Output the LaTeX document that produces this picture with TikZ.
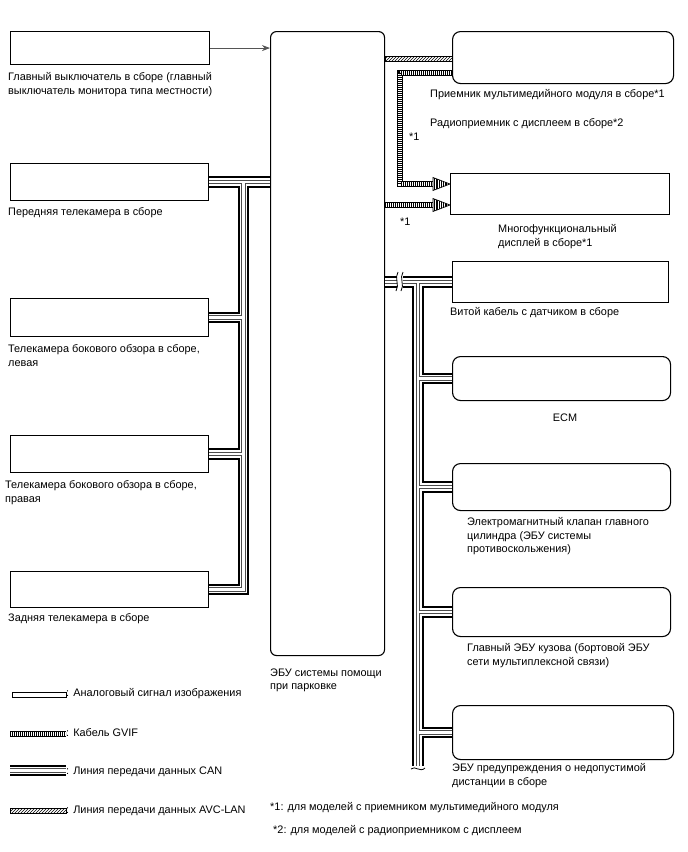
\documentclass[tikz,border=0pt]{standalone}
\usepackage{fontspec}
\setmainfont{Liberation Sans}
\usetikzlibrary{arrows.meta, positioning, calc, patterns}
\definecolor{linegray}{HTML}{555555}
\newcommand{\gvtip}[1]{%
  \begin{scope}[shift={#1}]
    \fill[white] (-17,-6.5) -- (0,0) -- (-17,6.5) -- cycle;
    \begin{scope}
      \clip (-17,-6.5) -- (0,0) -- (-17,6.5) -- cycle;
      \foreach \s in {-16,-14.2,...,-1} \draw[line width=0.6pt] (\s,-7) -- (\s,7);
    \end{scope}
    \draw[line width=0.7pt, line join=miter] (-17,-6.5) -- (0,0) -- (-17,6.5) -- cycle;
  \end{scope}}

\begin{document}
\begin{tikzpicture}[
    x=1pt, y=-1pt,
    font=\fontsize{10.9}{13.5}\selectfont,
    blk/.style={draw=black, line width=1.1pt, fill=white, anchor=north west, inner sep=0pt},
    rblk/.style={blk, rounded corners=8pt},
    lbl/.style={anchor=north west, inner sep=0pt, align=left},
    gvband/.style={line width=6pt, black},
    gvwhite/.style={line width=4.2pt, white},
    gvstripe/.style={line width=4.2pt, black, dash pattern=on 0.7pt off 1.3pt},
    swarrow/.style={-{Stealth[length=8pt, width=6pt]}, line width=0.8pt, linegray}
  ]
    \useasboundingbox (0,0) rectangle (688,852);

    % Blocks left
    \node[blk, minimum width=199pt, minimum height=33pt] (sw) at (10,31) {};
    \node[blk, minimum width=198pt, minimum height=37pt] (cf) at (10,163) {};
    \node[blk, minimum width=198pt, minimum height=38pt] (cl) at (10,298) {};
    \node[blk, minimum width=198pt, minimum height=37pt] (cr) at (10,435) {};
    \node[blk, minimum width=198pt, minimum height=36pt] (cb) at (10,571) {};

    % ECU
    \node[rblk, rounded corners=6pt, minimum width=114pt, minimum height=624pt] (ecu) at (270,31) {};

    % Blocks right
    \node[rblk, minimum width=221pt, minimum height=52pt] (mm) at (452,31) {};
    \node[blk, minimum width=219pt, minimum height=41pt] (mfd) at (450,173) {};
    \node[blk, minimum width=216pt, minimum height=41pt] (vk) at (452,261) {};
    \node[rblk, minimum width=218pt, minimum height=44pt] (ecm) at (452,356) {};
    \node[rblk, minimum width=218pt, minimum height=47pt] (skc) at (452,463) {};
    \node[rblk, minimum width=218pt, minimum height=49pt] (beu) at (452,587) {};
    \node[rblk, minimum width=221pt, minimum height=54pt] (prd) at (452,705) {};

    % Labels
    \node[lbl] (swl) at (8,72.5) {Главный выключатель в сборе (главный\\выключатель монитора типа местности)};
    \node[lbl] (cfl) at (8,207.5) {Передняя телекамера в сборе};
    \node[lbl] (cll) at (8,344.5) {Телекамера бокового обзора в сборе,\\левая};
    \node[lbl] (crl) at (5,480.5) {Телекамера бокового обзора в сборе,\\правая};
    \node[lbl] (cbl) at (8,613.5) {Задняя телекамера в сборе};
    \node[lbl] (ecul) at (270,668.5) {ЭБУ системы помощи\\при парковке};
    \node[lbl] (mml) at (430,89.5) {Приемник мультимедийного модуля в сборе*1};
    \node[lbl] (rdl) at (430,118.5) {Радиоприемник с дисплеем в сборе*2};
    \node[lbl] (n1a) at (409,132.5) {*1};
    \node[lbl] (n1b) at (400,217.5) {*1};
    \node[lbl] (mfdl) at (498,224.5) {Многофункциональный\\дисплей в сборе*1};
    \node[lbl] (vkl) at (450,307.5) {Витой кабель с датчиком в сборе};
    \node[lbl, anchor=north] (ecml) at (565,413.5) {ECM};
    \node[lbl] (skcl) at (467,517.5) {Электромагнитный клапан главного\\цилиндра (ЭБУ системы\\противоскольжения)};
    \node[lbl] (beul) at (467,643.5) {Главный ЭБУ кузова (бортовой ЭБУ\\сети мультиплексной связи)};
    \node[lbl] (prdl) at (452,763.5) {ЭБУ предупреждения о недопустимой\\дистанции в сборе};

    % Switch signal
    \draw[swarrow] (sw.east) -- (sw.east -| ecu.west);

    % CAN lines, left and right
    \coordinate (lt) at (243.5,0);
    \coordinate (rt) at (418,0);
    \coordinate (rend) at (418,766);
    \foreach \w/\c in {11.5/black, 7.2/white, 4.4/black!70, 2.2/white} {
      \draw[line width=\w pt, \c] (cf.east) -- (cf.east -| ecu.west);
      \draw[line width=\w pt, \c] (cf.east -| lt) |- (cb.east);
      \draw[line width=\w pt, \c] (cl.east) -- (cl.east -| lt);
      \draw[line width=\w pt, \c] (cr.east) -- (cr.east -| lt);
      \draw[line width=\w pt, \c] (vk.west -| ecu.east) -- (vk.west);
      \draw[line width=\w pt, \c] (vk.west -| rt) -- (rend);
      \draw[line width=\w pt, \c] (ecm.west -| rt) -- (ecm.west);
      \draw[line width=\w pt, \c] (skc.west -| rt) -- (skc.west);
      \draw[line width=\w pt, \c] (beu.west -| rt) -- (beu.west);
      \draw[line width=\w pt, \c] (prd.west -| rt) -- (prd.west);
    }
    % breaks
    \fill[white] (396.5,273) rectangle (402.5,290);
    \draw[line width=0.8pt] (398,272) .. controls (394,278) and (400,285) .. (396,291);
    \draw[line width=0.8pt] (403,272) .. controls (399,278) and (405,285) .. (401,291);
    \draw[line width=0.8pt] (411,769) .. controls (415,765) and (420,773) .. (425,768);

    % AVC-LAN
    \coordinate (av1) at (0,56);
    \coordinate (av2) at (0,61);
    \draw[line width=0.6pt, pattern=north east lines] (ecu.east |- av1) rectangle (mm.west |- av2);

    % GVIF
    \coordinate (gA) at (400,73);
    \coordinate (gB) at (0,184);
    \coordinate (gC) at (0,205);
    \foreach \s in {gvband, gvwhite, gvstripe} {
      \draw[\s] (mm.west |- gA) -- (gA) |- ($(mfd.west |- gB)+(-17,0)$);
      \draw[\s] (ecu.east |- gC) -- ($(mfd.west |- gC)+(-17,0)$);
    }
    \gvtip{(mfd.west |- gB)}
    \gvtip{(mfd.west |- gC)}

    % Legend
    \draw[line width=0.6pt, fill=white] (12,692) rectangle (66,697);
    \foreach \s in {gvband, gvwhite, gvstripe}
      \draw[\s] (10,734) -- (66,734);
    \foreach \w/\c in {11.5/black, 7.2/white, 4.4/black!70, 2.2/white}
      \draw[line width=\w pt, \c] (10,770.5) -- (66,770.5);
    \draw[line width=0.6pt, pattern=north east lines] (10,808) rectangle (66,813);
    \node[lbl] (lg1) at (66,688.5) {: Аналоговый сигнал изображения};
    \node[lbl] (lg2) at (66,728.5) {: Кабель GVIF};
    \node[lbl] (lg3) at (66,766.5) {: Линия передачи данных CAN};
    \node[lbl] (lg4) at (66,805.5) {: Линия передачи данных AVC-LAN};
    \node[lbl] (fn1) at (270,802.5) {*1: для моделей с приемником мультимедийного модуля};
    \node[lbl] (fn2) at (273,825.5) {*2: для моделей с радиоприемником с дисплеем};
  \end{tikzpicture}
\end{document}
